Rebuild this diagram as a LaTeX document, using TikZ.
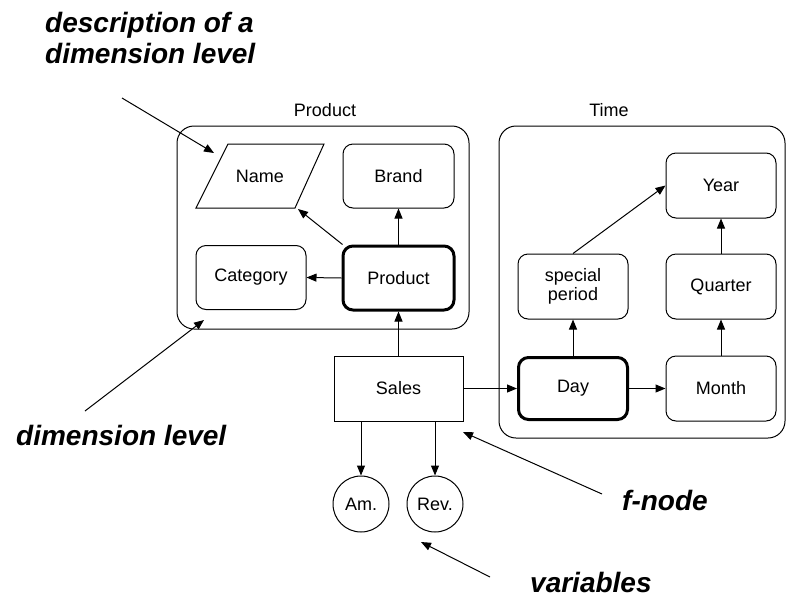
\documentclass[tikz,border=0pt]{standalone}
\usepackage{fontspec}
\setmainfont{Liberation Sans}
\usetikzlibrary{arrows.meta}
\begin{document}
\begin{tikzpicture}[x=1pt,y=-1pt,
  every node/.style={font=\fontsize{18}{21}\selectfont},
  lvl/.style={draw,line width=1pt,rounded corners=10pt,minimum width=111pt,minimum height=64pt,inner sep=0pt,align=center},
  keylvl/.style={lvl,line width=3pt},
  box/.style={draw,line width=1pt,rounded corners=17pt,inner sep=0pt},
  var/.style={draw,line width=1pt,circle,minimum size=56pt,inner sep=0pt},
  conn/.style={line width=1pt,-{Triangle[length=10pt,width=8pt]}},
  ann/.style={font=\fontsize{28}{31}\selectfont\bfseries\itshape,inner sep=0pt,anchor=base west,align=left}]
\useasboundingbox (0,0) rectangle (787,603);
% containers
\node[box,minimum width=292pt,minimum height=203pt] (prodbox) at (323,227.5) {};
\node (prodtitle) at (325,110) {Product};
\node[box,minimum width=286pt,minimum height=312pt] (timebox) at (642,282) {};
\node (timetitle) at (609,110) {Time};
% product dimension
\draw[line width=1pt] (228,144) -- (324,144) -- (295,208) -- (196,208) -- cycle;
\node (name) at (260,176) {Name};
\coordinate (namecorner) at (298,209);
\node[lvl] (brand) at (398.5,176) {Brand};
\node[lvl,minimum width=110pt] (cat) at (251,277.5) {Category};
\node[keylvl] (prod) at (398.5,278) {Product};
% fact
\node[draw,line width=1pt,minimum width=129pt,minimum height=65pt,inner sep=0pt] (sales) at (398.5,388.5) {Sales};
\node[var] (am) at (361,504) {Am.};
\node[var] (rev) at (435,504) {Rev.};
% time dimension
\node[lvl,minimum width=110pt,minimum height=65pt] (year) at (721,185.5) {Year};
\node[lvl,minimum width=110pt,minimum height=65pt] (sp) at (573,286.5) {special\\[-2pt]period};
\node[lvl,minimum width=110pt,minimum height=65pt] (quarter) at (721,286.5) {Quarter};
\node[keylvl,minimum width=109pt,minimum height=62pt] (day) at (573,388.5) {Day};
\node[lvl,minimum width=110pt,minimum height=65pt] (month) at (721,388.5) {Month};
% connectors
\draw[conn] (prod.north) -- (brand.south);
\draw[conn] (prod.west) -- (cat.east);
\draw[conn] (prod.north west) ++(1,0) -- (namecorner);
\draw[conn] (sales.north) -- (prod.south);
\draw[conn] (sales.east) -- (day.west);
\draw[conn] (day.east) -- (month.west);
\draw[conn] (day.north) -- (sp.south);
\draw[conn] (month.north) -- (quarter.south);
\draw[conn] (quarter.north) -- (year.south);
\draw[conn] (sp.north) -- (year.west);
\draw[conn] (am.north |- sales.south) -- (am.north);
\draw[conn] (rev.north |- sales.south) -- (rev.north);
% annotations
\node[ann] (descr) at (45,32) {description of a};
\node[ann] (descr2) at (45,63) {dimension level};
\coordinate (descrstart) at (122,98);
\coordinate (descrtip) at (214,153);
\draw[conn] (descrstart) -- (descrtip);
\node[ann] (dimlvl) at (16,445) {dimension level};
\coordinate (dimstart) at (85,411);
\coordinate (dimtip) at (204,320);
\draw[conn] (dimstart) -- (dimtip);
\node[ann] (fnode) at (622,510) {f-node};
\coordinate (fstart) at (602,494);
\coordinate (ftip) at (463,432);
\draw[conn] (fstart) -- (ftip);
\node[ann] (vars) at (530,592) {variables};
\coordinate (vstart) at (490,577);
\coordinate (vtip) at (421,542);
\draw[conn] (vstart) -- (vtip);
\end{tikzpicture}
\end{document}
